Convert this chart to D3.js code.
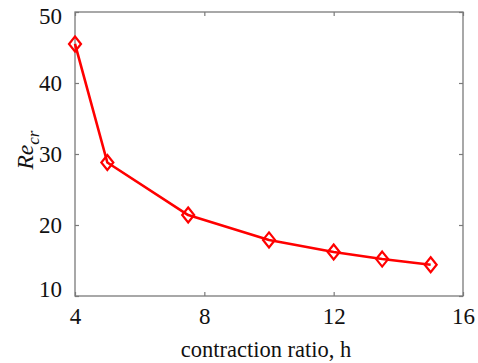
<!DOCTYPE html>
<html>
<head>
<meta charset="utf-8">
<script src="https://cdn.jsdelivr.net/npm/d3@7"></script>
<style>
  html, body { margin: 0; padding: 0; background: #fff; }
  svg { display: block; }
</style>
</head>
<body>
<svg id="chart" width="478" height="363"></svg>
<script>
// Critical Reynolds number against contraction ratio
const contractionRatio = [4, 5, 7.5, 10, 12, 13.5, 15];
const reCritical = [45.5, 28.8, 21.4, 17.9, 16.2, 15.2, 14.4];
const xTicks = [4, 8, 12, 16];
const yTicks = [10, 20, 30, 40, 50];

const serif = "'Liberation Serif', 'Times New Roman', serif";
const svg = d3.select("#chart").attr("font-family", serif);
const plot = { left: 75, right: 463, top: 12, bottom: 296 };

const x = d3.scaleLinear().domain([4, 16]).range([plot.left, plot.right]);
const y = d3.scaleLinear().domain([10, 50]).range([plot.bottom, plot.top]);

const boxColor = "#7a7a7a";
const tickLen = 4;

// Frame with inward ticks on all four sides
svg.append("rect")
  .attr("x", plot.left).attr("y", plot.top)
  .attr("width", plot.right - plot.left).attr("height", plot.bottom - plot.top)
  .attr("fill", "none").attr("stroke", boxColor).attr("stroke-width", 1.3);

const styleAxis = g => {
  g.attr("font-family", serif).attr("font-size", 23);
  g.select(".domain").remove();
  g.selectAll(".tick line").attr("stroke", boxColor).attr("stroke-width", 1.2);
  g.selectAll(".tick text").attr("fill", "#111");
};

svg.append("g").attr("transform", `translate(0,${plot.bottom})`)
  .call(d3.axisBottom(x).tickValues(xTicks).tickSizeInner(-tickLen).tickSizeOuter(0).tickPadding(12).tickFormat(d3.format("d")))
  .call(styleAxis);
svg.append("g").attr("transform", `translate(0,${plot.top})`)
  .call(d3.axisTop(x).tickValues(xTicks).tickSizeInner(-tickLen).tickSizeOuter(0).tickFormat(""))
  .call(styleAxis);
const yAxisG = svg.append("g").attr("transform", `translate(${plot.left},0)`)
  .call(d3.axisLeft(y).tickValues(yTicks).tickSizeInner(-tickLen).tickSizeOuter(0).tickPadding(13).tickFormat(d3.format("d")))
  .call(styleAxis);
// keep the end labels clear of the frame corners
yAxisG.selectAll(".tick text")
  .attr("dy", d => d === 10 ? "0em" : d === 50 ? "0.48em" : "0.32em");
svg.append("g").attr("transform", `translate(${plot.right},0)`)
  .call(d3.axisRight(y).tickValues(yTicks).tickSizeInner(-tickLen).tickSizeOuter(0).tickFormat(""))
  .call(styleAxis);

// Axis titles
svg.append("text")
  .attr("x", 266).attr("y", 357)
  .attr("text-anchor", "middle").attr("font-size", 22.5).attr("fill", "#111")
  .text("contraction ratio, h");

const yTitle = svg.append("text")
  .attr("transform", "translate(33,150) rotate(-90)")
  .attr("text-anchor", "middle").attr("font-size", 23.5).attr("font-style", "italic").attr("fill", "#111");
yTitle.append("tspan").text("Re");
yTitle.append("tspan").attr("dy", 6).attr("font-size", 17).text("cr");

// Data line and open diamond markers
const pts = contractionRatio.map((h, i) => [h, reCritical[i]]);
svg.append("path")
  .datum(pts)
  .attr("fill", "none").attr("stroke", "#ff0000").attr("stroke-width", 2.6)
  .attr("stroke-linejoin", "round")
  .attr("d", d3.line().x(d => x(d[0])).y(d => y(d[1])));

const hw = 6, hh = 7.5;
svg.append("g").selectAll("path")
  .data(pts).join("path")
  .attr("transform", d => `translate(${x(d[0])},${y(d[1])})`)
  .attr("d", `M0,${-hh}L${hw},0L0,${hh}L${-hw},0Z`)
  .attr("fill", "none").attr("stroke", "#ff0000").attr("stroke-width", 2.2);
</script>
</body>
</html>
